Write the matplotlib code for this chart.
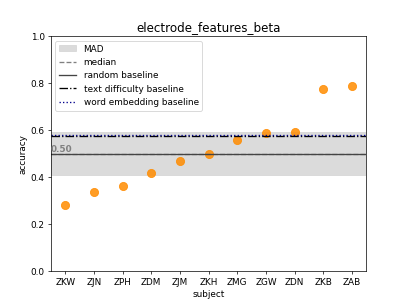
import matplotlib
matplotlib.use("Agg")
import matplotlib.pyplot as plt
import numpy as np

subjects = ["ZKW", "ZJN", "ZPH", "ZDM", "ZJM", "ZKH", "ZMG", "ZGW", "ZDN", "ZKB", "ZAB"]
accuracy = [0.284, 0.338, 0.362, 0.418, 0.468, 0.501, 0.561, 0.588, 0.591, 0.776, 0.788]
random_baseline = 0.5
text_difficulty_baseline = 0.575
word_embedding_baseline = 0.581


def draw(save_file):
    fig, ax = plt.subplots(figsize=(6.4, 4.8), dpi=63.6)

    x = np.arange(len(subjects))
    med = np.median(accuracy)
    mad = np.median(np.abs(np.array(accuracy) - med))

    ax.axhspan(med - mad, med + mad, color="lightgray", alpha=0.8, label="MAD", zorder=0)
    ax.scatter(x, accuracy, s=85, color="darkorange", alpha=0.85, zorder=1)
    ax.axhline(med, color="gray", linestyle="--", label="median", zorder=2)
    ax.axhline(random_baseline, color="#444444", linestyle="-", label="random baseline", zorder=2)
    ax.axhline(text_difficulty_baseline, color="black", linestyle="-.", label="text difficulty baseline", zorder=2)
    ax.axhline(word_embedding_baseline, color="darkblue", linestyle=":", label="word embedding baseline", zorder=2)
    ax.text(-0.5, med + 0.01, "%.2f" % med, color="gray", fontweight="bold", fontsize=10)

    ax.set_xticks(x)
    ax.set_xticklabels(subjects)
    ax.set_xlim(-0.5, len(subjects) - 0.5)
    ax.set_ylim(0, 1)
    ax.set_xlabel("subject")
    ax.set_ylabel("accuracy")
    ax.set_title("electrode_features_beta", fontsize=13.5)
    ax.legend(loc="upper left")

    if save_file is not None:
        fig.savefig(save_file, dpi=63.6)


if __name__ == "__main__":
    draw("out.png")
